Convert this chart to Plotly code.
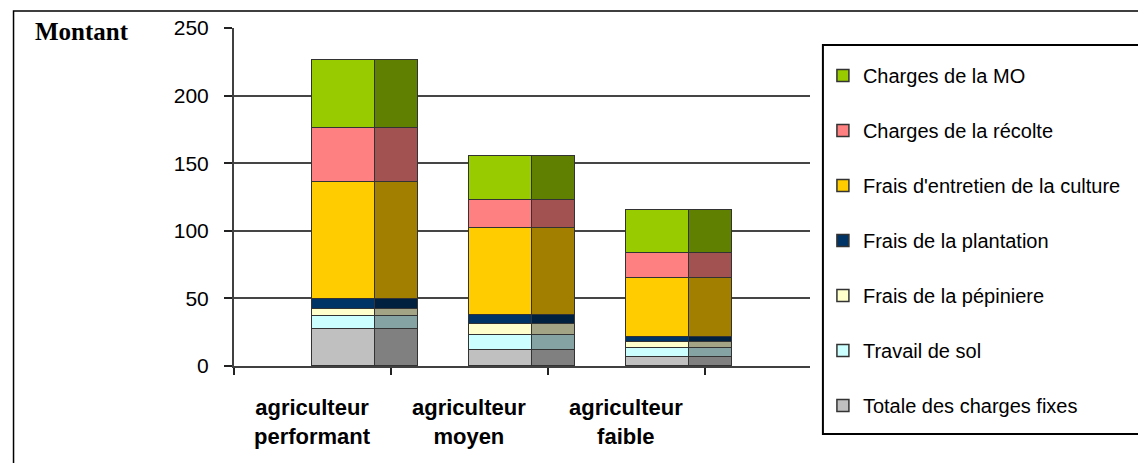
import plotly.graph_objects as go
import numpy as np

categories = ["agriculteur<br>performant", "agriculteur<br>moyen", "agriculteur<br>faible"]
series_names = ["Totale des charges fixes", "Travail de sol", "Frais de la pépiniere",
                "Frais de la plantation", "Frais d'entretien de la culture",
                "Charges de la récolte", "Charges de la MO"]
fixes = [27.6, 11.8, 6.4]
travail = [9.6, 11.4, 6.7]
pepiniere = [5.2, 7.9, 4.4]
plantation = [7.2, 6.6, 4.2]
entretien = [86.8, 64.7, 43.2]
recolte = [40.0, 20.5, 19.0]
mo = [50.1, 32.5, 31.8]
values = [fixes, travail, pepiniere, plantation, entretien, recolte, mo]
light_colors = ["#C0C0C0", "#CCFFFF", "#FFFFCC", "#003366", "#FFCC00", "#FF8080", "#99CC00"]
dark_colors = ["#808080", "#85A3A3", "#A3A385", "#00203F", "#A37F00", "#A35252", "#5F8000"]
y_ticks = [0, 50, 100, 150, 200, 250]

FONT = "Liberation Sans, Arial, sans-serif"
centers = np.arange(len(categories)) + 0.5
front_w, side_w = 0.4, 0.27

fig = go.Figure()
for i, (name, vals) in enumerate(zip(series_names, values)):
    fig.add_trace(go.Bar(
        x=centers + front_w / 2, y=vals, width=front_w, name=name,
        marker=dict(color=light_colors[i], line=dict(color="#333333", width=1.5)),
        legendgroup=name, legendrank=len(series_names) - i, showlegend=True,
        hoverinfo="skip"))
    fig.add_trace(go.Bar(
        x=centers + front_w + side_w / 2, y=vals, width=side_w, name=name,
        marker=dict(color=dark_colors[i], line=dict(color="#333333", width=1.5)),
        legendgroup=name, showlegend=False, hoverinfo="skip"))

L, R, T, B = 234, 814, 28, 366
W, H = 1138, 463
pw, ph = R - L, B - T

def px_x(x):
    return (x - L) / pw

def px_y(y):
    return (B - y) / ph

annotations = [dict(x=c, y=px_y(422), xref="x", yref="paper", text=f"<b>{lab}</b>",
                    showarrow=False, xanchor="center", yanchor="middle",
                    font=dict(family=FONT, size=22, color="black"))
               for c, lab in zip(centers, categories)]
annotations.append(dict(x=px_x(32), y=px_y(31), xref="paper", yref="paper",
                        text="<b>Montant</b>", showarrow=False, xanchor="left",
                        yanchor="middle",
                        font=dict(family="Liberation Serif, Times New Roman, serif",
                                  size=25, color="black")))

shapes = [
    dict(type="rect", xref="paper", yref="paper", x0=px_x(12), x1=px_x(1300),
         y0=px_y(600), y1=px_y(11), line=dict(color="black", width=1.5),
         fillcolor="rgba(0,0,0,0)", layer="above"),
    dict(type="rect", xref="paper", yref="paper", x0=px_x(827), x1=px_x(1300),
         y0=px_y(434), y1=px_y(45), line=dict(color="black", width=2),
         fillcolor="rgba(0,0,0,0)", layer="above"),
]

fig.update_layout(
    width=W, height=H, barmode="stack", bargap=0,
    margin=dict(l=L, r=W - R, t=T, b=H - B, pad=0),
    paper_bgcolor="white", plot_bgcolor="white",
    font=dict(family=FONT, color="black"),
    xaxis=dict(range=[0, 3.67], tickvals=[0, 1, 2, 3], ticktext=["", "", "", ""],
               ticks="outside", ticklen=7, tickwidth=2, tickcolor="#222222",
               showline=True, linecolor="#404040", linewidth=2,
               showgrid=False, zeroline=False, fixedrange=True),
    yaxis=dict(range=[0, 250], tickvals=y_ticks, ticks="outside", ticklen=8,
               tickwidth=2, tickcolor="#222222", showline=True, linecolor="#404040",
               linewidth=2, showgrid=True, gridcolor="#454545", gridwidth=2,
               zeroline=False, tickfont=dict(family=FONT, size=21, color="black"),
               ticklabelstandoff=11),
    legend=dict(x=px_x(827), y=px_y(56), xanchor="left", yanchor="top",
                borderwidth=0, bgcolor="rgba(0,0,0,0)", tracegroupgap=26,
                maxheight=460,
                font=dict(family=FONT, size=20, color="black"), traceorder="grouped"),
    annotations=annotations, shapes=shapes,
)

fig.write_html("out.html")
